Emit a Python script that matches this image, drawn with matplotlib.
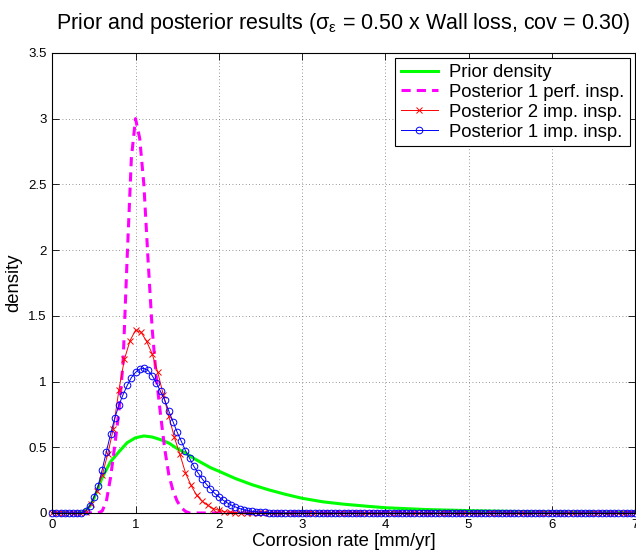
import numpy as np
import matplotlib
matplotlib.use('Agg')
import matplotlib.pyplot as plt

plt.rcParams['font.family'] = ['Liberation Sans', 'DejaVu Sans']
plt.rcParams['mathtext.fontset'] = 'custom'
plt.rcParams['mathtext.rm'] = 'Liberation Sans'
plt.rcParams['mathtext.it'] = 'Liberation Sans'

# prior density (green)
x_prior = [0.0, 0.3, 0.35, 0.4, 0.45, 0.5, 0.6, 0.7, 0.8, 0.9, 1.0, 1.1, 1.2, 1.3, 1.4,
           1.5, 1.6, 1.7, 1.8, 1.9, 2.0, 2.2, 2.4, 2.6, 2.8, 3.0, 3.25, 3.5, 3.75, 4.0,
           4.5, 5.0, 5.5, 6.0, 6.5, 7.0]
y_prior = [0.0, 0.0, 0.002, 0.02, 0.05, 0.11, 0.27, 0.39, 0.465, 0.535, 0.572, 0.586, 0.578,
           0.558, 0.532, 0.49, 0.456, 0.415, 0.38, 0.345, 0.318, 0.262, 0.215, 0.176, 0.142,
           0.112, 0.085, 0.067, 0.053, 0.04, 0.026, 0.018, 0.012, 0.008, 0.005, 0.003]

# posterior 1 perfect inspection (magenta), step 0.05
x_perf = np.round(np.arange(0, 7.001, 0.05), 2)
y_perf_head = [0, 0, 0, 0, 0, 0, 0, 0, 0, 0, 0, 0,
               0.015, 0.09, 0.27, 0.51, 0.77, 1.14, 1.95, 2.7, 3.0, 2.85, 2.5, 1.93,
               1.40, 1.03, 0.75, 0.49, 0.29, 0.17, 0.09, 0.04, 0.012, 0.0]

# posterior 2 imperfect inspections (red), step 1/15
x_imp2 = np.linspace(0, 7, 106)
y_imp2_head = [0, 0, 0, 0, 0, 0,
               0.01, 0.07, 0.165, 0.29, 0.45, 0.64, 0.935, 1.17, 1.31, 1.39, 1.375,
               1.305, 1.21, 1.07, 0.90, 0.735, 0.575, 0.445, 0.305, 0.21, 0.135, 0.09,
               0.058, 0.034, 0.02, 0.011, 0.005, 0.002, 0.001, 0.0]

# posterior 1 imperfect inspection (blue), step 0.05
x_imp1 = np.round(np.arange(0, 7.001, 0.05), 2)
y_imp1_head = [0, 0, 0, 0, 0, 0, 0,
               0.003, 0.015, 0.055, 0.12, 0.205, 0.33, 0.467, 0.60, 0.72, 0.82, 0.90,
               0.97, 1.03, 1.07, 1.095, 1.10, 1.085, 1.045, 0.99, 0.925, 0.86, 0.775,
               0.695, 0.615, 0.545, 0.475, 0.415, 0.355, 0.305, 0.26, 0.22, 0.183, 0.15,
               0.123, 0.098, 0.078, 0.06, 0.046, 0.034, 0.025, 0.018, 0.012, 0.009,
               0.006, 0.004, 0.003, 0.002, 0.001, 0.0]

# rest of each grid is zero density
y_perf = y_perf_head + [0.0] * (len(x_perf) - len(y_perf_head))
y_imp2 = y_imp2_head + [0.0] * (len(x_imp2) - len(y_imp2_head))
y_imp1 = y_imp1_head + [0.0] * (len(x_imp1) - len(y_imp1_head))

fig = plt.figure(figsize=(6.36, 5.51), dpi=100)
ax = fig.add_axes([0.0822, 0.069, 0.9163, 0.835])

ax.plot(x_prior, y_prior, color=(0, 1, 0), lw=2.2, label='Prior density')
ax.plot(x_perf, y_perf, color=(1, 0, 1), lw=2.2, dashes=(3, 2),
        label='Posterior 1 perf. insp.')
ax.plot(x_imp2, y_imp2, color=(1, 0, 0), lw=0.7, marker='x', ms=3.8, mew=0.7,
        label='Posterior 2 imp. insp.', clip_on=False)
ax.plot(x_imp1, y_imp1, color=(0, 0, 1), lw=0.7, marker='o', ms=4.8, mew=0.7,
        mfc='none', label='Posterior 1 imp. insp.', clip_on=False)

ax.set_xlim(0, 7)
ax.set_ylim(0, 3.5)
ax.set_xticks(range(8))
ax.set_yticks([0, 0.5, 1, 1.5, 2, 2.5, 3, 3.5])
ax.set_yticklabels(['0', '0.5', '1', '1.5', '2', '2.5', '3', '3.5'])
ax.tick_params(direction='in', top=True, right=True, length=5, width=0.6,
               labelsize=9.5, pad=4)
for s in ax.spines.values():
    s.set_linewidth(0.8)
ax.grid(True, color='0.45', lw=0.6, dashes=(1, 3))

ax.set_xlabel('Corrosion rate [mm/yr]', fontsize=13.3, labelpad=2)
ax.set_ylabel('density', fontsize=13.3, labelpad=4)
fig.text(0.5404, 1 - 29.5 / 551,
         r'Prior and posterior results ($\mathregular{\sigma_\varepsilon}$ = 0.50 x Wall loss, cov = 0.30)',
         ha='center', va='baseline', fontsize=15.5)

leg = ax.legend(loc='upper right', fontsize=13.3, fancybox=False, edgecolor='k',
                framealpha=1, borderaxespad=0.3, borderpad=0.3, labelspacing=0.16,
                handlelength=2.0, handletextpad=0.6)
leg.get_frame().set_linewidth(0.8)

fig.savefig('out.png', dpi=100)
